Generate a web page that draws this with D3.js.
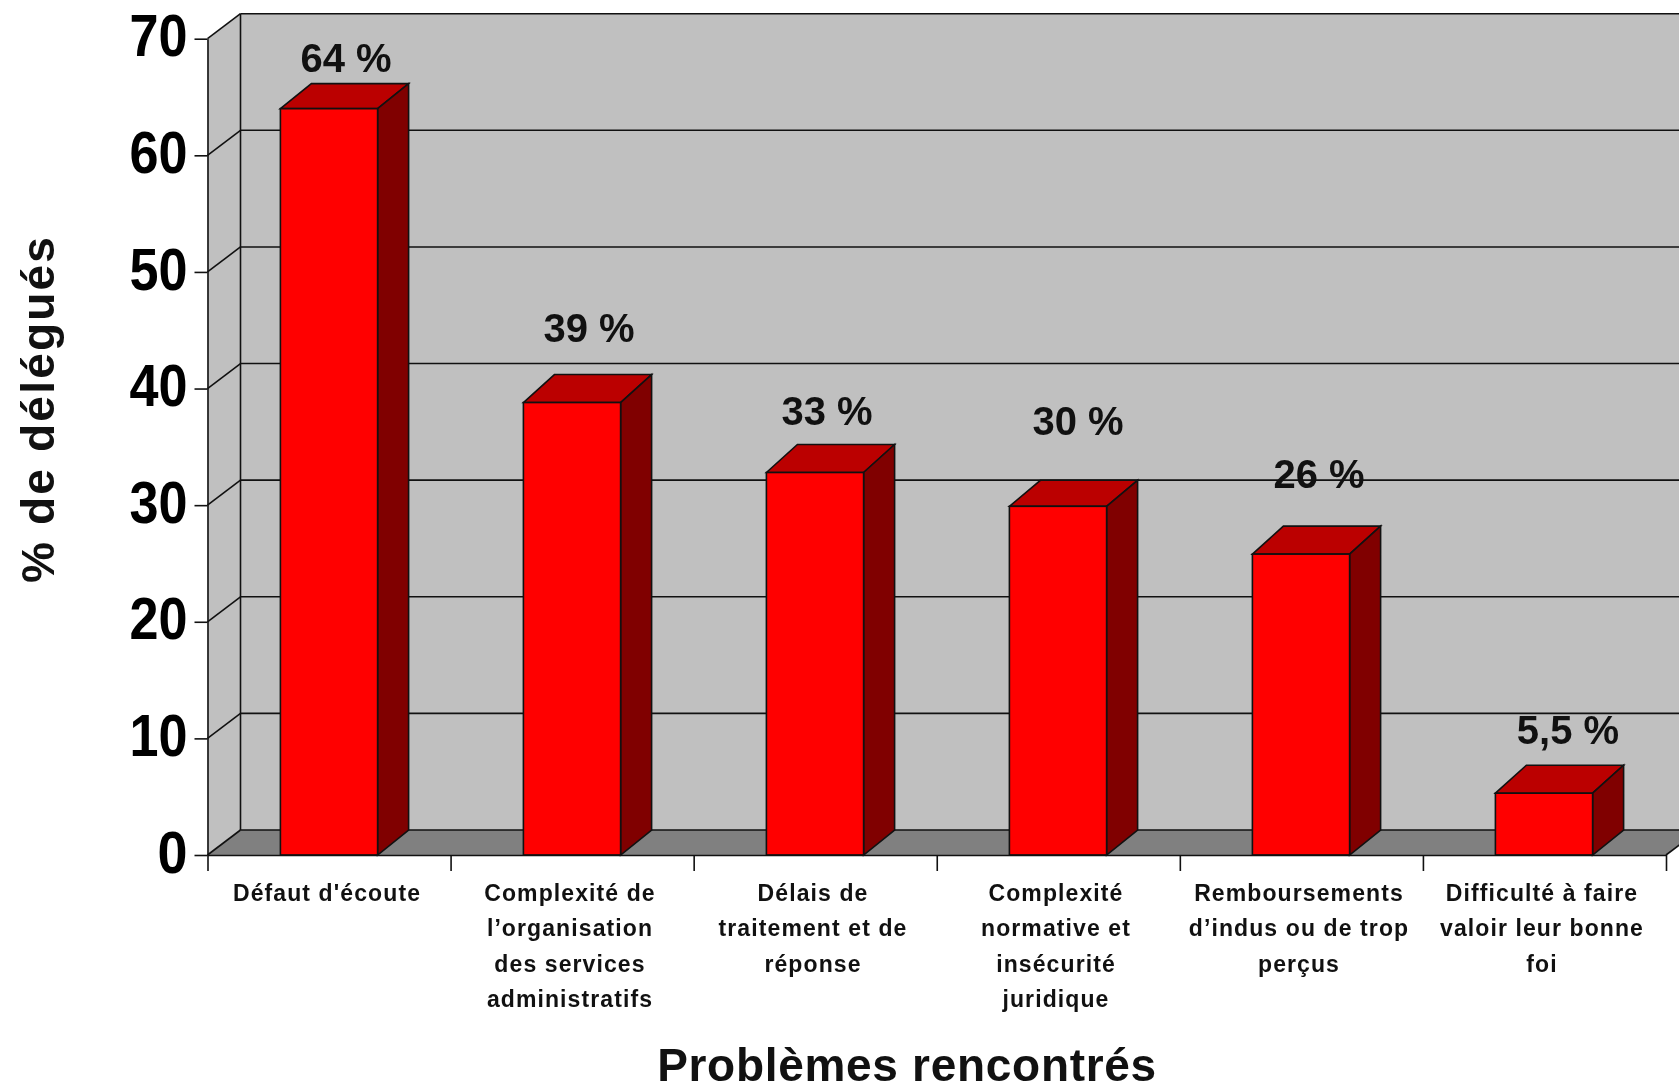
<!DOCTYPE html>
<html>
<head>
<meta charset="utf-8">
<script src="https://cdn.jsdelivr.net/npm/d3@7.9.0/dist/d3.min.js"></script>
<style>
  html, body { margin: 0; padding: 0; background: #fff; overflow: hidden; }
  svg { display: block; filter: blur(0.5px); font-family: "Liberation Sans", Arial, sans-serif; }
  .line { stroke: #111; stroke-width: 1.6; }
</style>
</head>
<body>
<svg id="chart" width="1679" height="1091"></svg>
<script>
const categories = ["Défaut d'écoute", "Complexité de l'organisation", "Délais", "Complexité normative", "Remboursements", "Difficulté"];
const categoryLines = [
  ["Défaut d'écoute"],
  ["Complexité de", "l’organisation", "des services", "administratifs"],
  ["Délais de", "traitement et de", "réponse"],
  ["Complexité", "normative et", "insécurité", "juridique"],
  ["Remboursements", "d’indus ou de trop", "perçus"],
  ["Difficulté à faire", "valoir leur bonne", "foi"]
];
// bar heights, labels as printed
const values = [64, 38.8, 32.8, 29.9, 25.8, 5.3];
const valueLabels = ["64 %", "39 %", "33 %", "30 %", "26 %", "5,5 %"];
const yTicks = [0, 10, 20, 30, 40, 50, 60, 70];

// data labels were placed by hand in the original
const labelDx = [17, 17, 12, 20, 18, 24];
const labelDy = [-37, -61, -48, -71, -66, -49];

const depthX = 33, depthY = 25;
const barDepthX = 31;
const barDepthY = [25, 28, 28, 26, 28, 28]; // top faces are not all equal in the original
const svg = d3.select("#chart");

const y = d3.scaleLinear().domain([0, 70]).range([855, 38.7]);
const x = d3.scaleBand().domain(categories).range([207.5, 1665.5])
  .paddingInner(0.6).paddingOuter(0.3);
const xSlots = d3.scaleLinear().domain([0, categories.length]).range([207.5, 1666]);

const left = xSlots(0), right = xSlots(categories.length);
const poly = pts => pts.map(p => p.join(",")).join(" ");

// walls and floor
svg.append("polygon").attr("fill", "#c0c0c0")
  .attr("points", poly([[left + depthX, y(70) - depthY], [right + depthX, y(70) - depthY], [right + depthX, y(0) - depthY], [left + depthX, y(0) - depthY]]));
svg.append("polygon").attr("fill", "#c0c0c0")
  .attr("points", poly([[left, y(70)], [left + depthX, y(70) - depthY], [left + depthX, y(0) - depthY], [left, y(0)]]));
svg.append("polygon").attr("fill", "#808080")
  .attr("points", poly([[left, y(0)], [left + depthX, y(0) - depthY], [right + depthX, y(0) - depthY], [right, y(0)]]));

// gridlines, back wall then side wall
svg.selectAll(".grid").data(yTicks).join("line")
  .attr("class", "grid line")
  .attr("x1", left + depthX).attr("x2", right + depthX)
  .attr("y1", d => y(d) - depthY).attr("y2", d => y(d) - depthY);
svg.selectAll(".gridside").data(yTicks).join("line")
  .attr("class", "gridside line")
  .attr("x1", left).attr("x2", left + depthX)
  .attr("y1", d => y(d)).attr("y2", d => y(d) - depthY);
svg.append("line").attr("class", "line")
  .attr("x1", left + depthX).attr("x2", left + depthX)
  .attr("y1", y(70) - depthY).attr("y2", y(0) - depthY);
svg.append("line").attr("class", "line")
  .attr("x1", right).attr("x2", right + depthX)
  .attr("y1", y(0)).attr("y2", y(0) - depthY);

// bars
const bars = svg.selectAll(".bar").data(values).join("g").attr("class", "bar");
bars.append("polygon").attr("class", "line").attr("fill", "#bb0000")
  .attr("points", (d, i) => {
    const a = x(categories[i]), w = x.bandwidth(), t = y(d), dy = barDepthY[i];
    return poly([[a, t], [a + barDepthX, t - dy], [a + w + barDepthX, t - dy], [a + w, t]]);
  });
bars.append("polygon").attr("class", "line").attr("fill", "#800000")
  .attr("points", (d, i) => {
    const a = x(categories[i]) + x.bandwidth(), t = y(d), dy = barDepthY[i];
    return poly([[a, t], [a + barDepthX, t - dy], [a + barDepthX, y(0) - depthY], [a, y(0)]]);
  });
bars.append("rect").attr("class", "line").attr("fill", "#ff0000")
  .attr("x", (d, i) => x(categories[i]))
  .attr("y", d => y(d))
  .attr("width", x.bandwidth())
  .attr("height", d => y(0) - y(d));

// axes
const yAxis = svg.append("g").attr("transform", `translate(${left},0)`)
  .call(d3.axisLeft(y).tickValues(yTicks).tickSize(13).tickSizeOuter(0).tickPadding(7));
const xAxis = svg.append("g").attr("transform", `translate(0,${y(0)})`)
  .call(d3.axisBottom(xSlots).ticks(categories.length).tickSize(16).tickSizeOuter(0).tickFormat(""));
svg.selectAll(".domain, .tick line").attr("stroke", "#111").attr("stroke-width", 1.6);

yAxis.selectAll("text")
  .attr("fill", "#000")
  .attr("font-size", 59)
  .attr("font-weight", "bold")
  .attr("text-anchor", "end")
  .attr("dy", "0.29em")
  .attr("textLength", d => d === 0 ? 30 : 58)
  .attr("lengthAdjust", "spacingAndGlyphs");

// data labels
svg.selectAll(".value").data(valueLabels).join("text")
  .attr("class", "value")
  .attr("x", (d, i) => x(categories[i]) + x.bandwidth() / 2 + labelDx[i])
  .attr("y", (d, i) => y(values[i]) + labelDy[i])
  .attr("text-anchor", "middle")
  .attr("font-size", 40)
  .attr("font-weight", "bold")
  .attr("fill", "#111")
  .text(d => d);

// category labels
const catGroups = svg.selectAll(".cat").data(categoryLines).join("text")
  .attr("class", "cat")
  .attr("text-anchor", "middle")
  .attr("font-size", 23)
  .attr("font-weight", "bold")
  .attr("letter-spacing", 1.1)
  .attr("fill", "#111");
catGroups.selectAll("tspan").data((d, i) => d.map(s => ({ s, i }))).join("tspan")
  .attr("x", d => x(categories[d.i]) + x.bandwidth() / 2 - 2)
  .attr("y", (d, j) => 901 + j * 35.4)
  .text(d => d.s);

// axis titles
svg.append("text")
  .attr("transform", "translate(54,409) rotate(-90)")
  .attr("text-anchor", "middle")
  .attr("font-size", 46)
  .attr("font-weight", "bold")
  .attr("letter-spacing", 2.2)
  .attr("fill", "#111")
  .text("% de délégués");
svg.append("text")
  .attr("x", 907).attr("y", 1081)
  .attr("text-anchor", "middle")
  .attr("font-size", 46)
  .attr("font-weight", "bold")
  .attr("letter-spacing", 0.7)
  .attr("fill", "#111")
  .text("Problèmes rencontrés");
</script>
</body>
</html>
